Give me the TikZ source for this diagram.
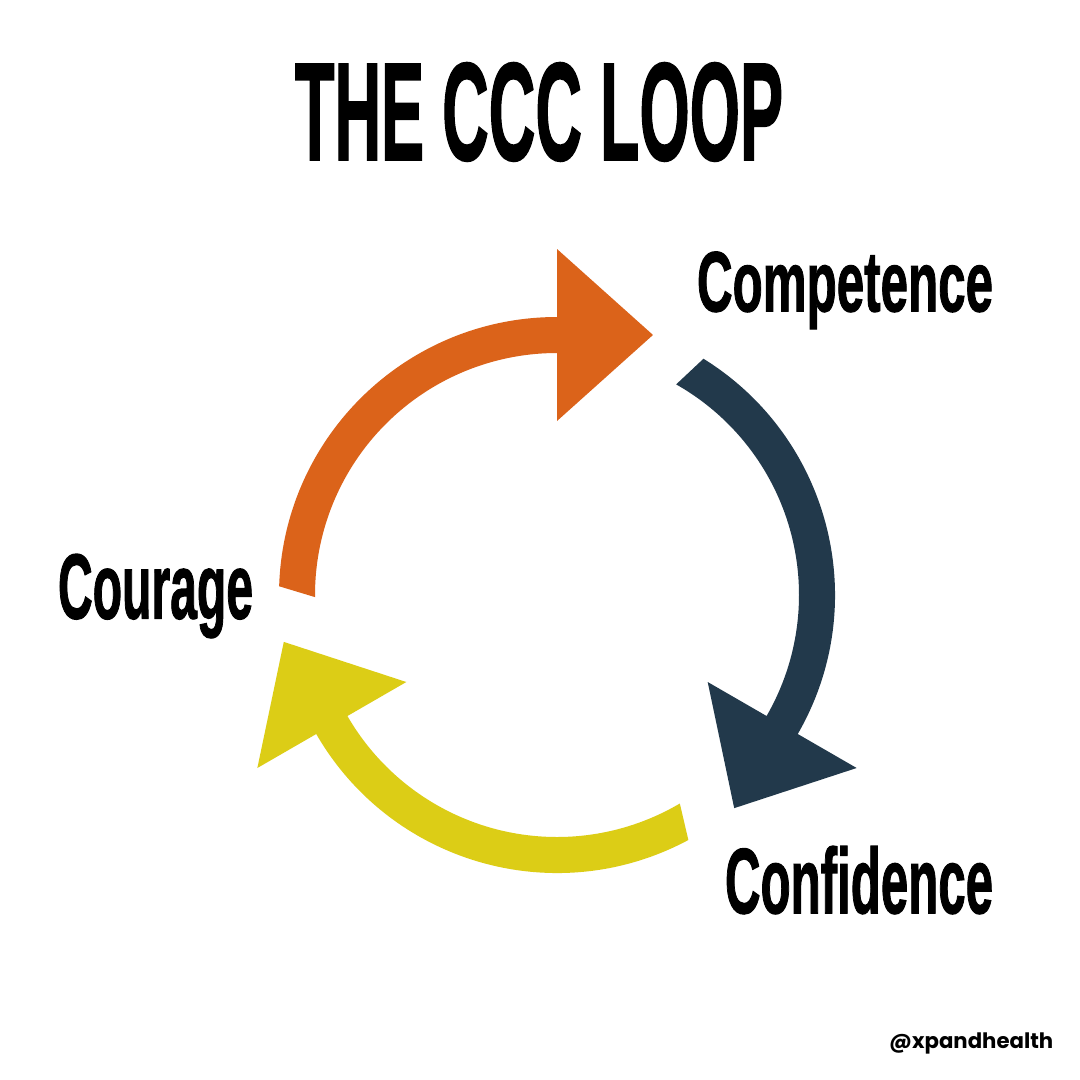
\documentclass[tikz,border=0pt]{standalone}
\usepackage{fontspec}
\usepackage{graphicx}
\setmainfont{Liberation Sans}
\newfontfamily\heavyfont{Liberation Sans Bold}[FakeBold=1.5]
\newfontfamily\handlefont{Poppins}
\definecolor{orangeC}{HTML}{DB631A}
\definecolor{darkC}{HTML}{22394B}
\definecolor{yellowC}{HTML}{DCCD16}
\tikzset{
  lbl/.style={inner sep=0pt, outer sep=0pt, anchor=north west},
}
\begin{document}
\begin{tikzpicture}[x=1pt,y=-1pt]
\useasboundingbox (0,0) rectangle (1080,1080);
\fill[white] (0,0) rectangle (1080,1080);
% arrows
\begin{scope}[shift={(557,595)}]
\foreach \p/\c in {0/orangeC,-120/darkC,-240/yellowC}{
  \fill[\c] ({178.2+\p}:278pt)
    arc[start angle={178.2+\p}, end angle={90+\p}, radius=278pt]
    -- ({90+\p}:346pt) -- ({69.74+\p}:277.2pt) -- ({90+\p}:174pt)
    -- ({90+\p}:242pt)
    arc[start angle={90+\p}, end angle={180.5+\p}, radius=242pt]
    -- cycle;
}
\end{scope}
% texts
\node[lbl] (title) at (295,62.7) {\resizebox*{488pt}{98.5pt}{\heavyfont THE CCC LOOP}};
\node[lbl] (competence) at (697,251.7) {\resizebox*{296pt}{77.3pt}{\heavyfont Competence}};
\node[lbl] (courage) at (58,554) {\resizebox*{195pt}{84pt}{\heavyfont Courage}};
\node[lbl] (confidence) at (725,846) {\resizebox*{268pt}{68pt}{\heavyfont Confidence}};
\node[inner sep=0pt, anchor=base west] (handle) at (889,1048) {\resizebox{164pt}{!}{\handlefont\bfseries @xpandhealth}};
\end{tikzpicture}
\end{document}
